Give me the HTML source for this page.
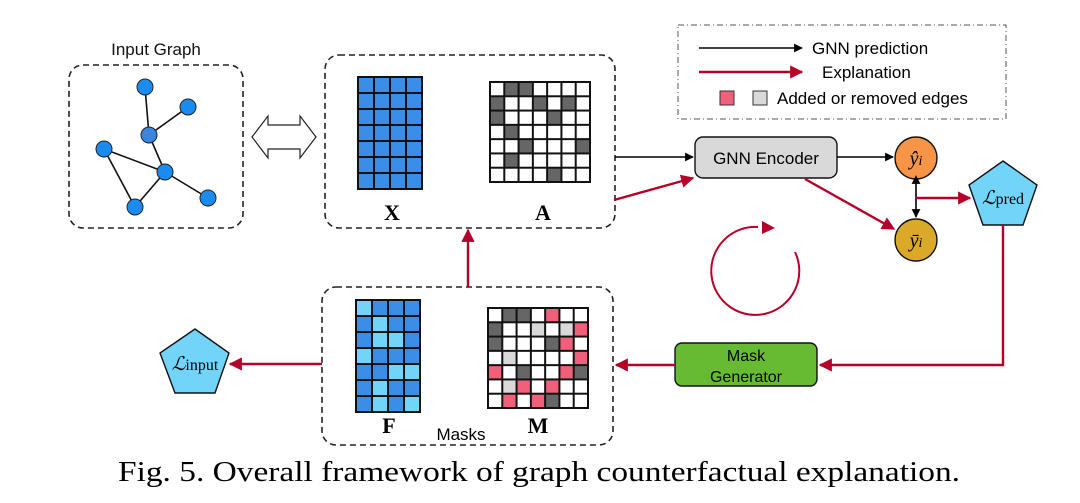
<!DOCTYPE html>
<html><head><meta charset="utf-8"><style>html,body{margin:0;padding:0;background:#fff}svg{display:block}</style></head><body>
<svg width="1080" height="503" viewBox="0 0 1080 503" xmlns="http://www.w3.org/2000/svg" font-family="Liberation Sans, sans-serif">
<defs>
<marker id="ab" viewBox="0 0 10 10" refX="9" refY="5" markerWidth="5.5" markerHeight="5.5" orient="auto"><path d="M0,0L10,5L0,10z" fill="#000"/></marker>
<marker id="ar" viewBox="0 0 10 10" refX="9" refY="5" markerWidth="5.5" markerHeight="5.5" orient="auto"><path d="M0,0L10,5L0,10z" fill="#b5002a"/></marker>
<marker id="abs" viewBox="0 0 10 10" refX="1" refY="5" markerWidth="5.5" markerHeight="5.5" orient="auto-start-reverse"><path d="M0,0L10,5L0,10z" fill="#000"/></marker>
<pattern id="gF" x="356" y="300" width="16" height="16" patternUnits="userSpaceOnUse"><rect x="0" y="0" width="16" height="16" fill="none" stroke="#111" stroke-width="2"/></pattern>
<pattern id="gX" x="358" y="77" width="16" height="16" patternUnits="userSpaceOnUse"><rect x="0" y="0" width="16" height="16" fill="none" stroke="#111" stroke-width="2"/></pattern>
<pattern id="gA" x="490" y="82" width="14.285" height="14.285" patternUnits="userSpaceOnUse"><rect x="0" y="0" width="14.285" height="14.285" fill="none" stroke="#111" stroke-width="2"/></pattern>
<pattern id="gM" x="488" y="308" width="14.285" height="14.285" patternUnits="userSpaceOnUse"><rect x="0" y="0" width="14.285" height="14.285" fill="none" stroke="#111" stroke-width="2"/></pattern>
</defs>

<text x="156" y="55" font-size="17" text-anchor="middle" fill="#111">Input Graph</text>
<rect x="69" y="65" width="174" height="163" rx="14" fill="none" stroke="#222" stroke-width="1.6" stroke-dasharray="6,4"/>
<g stroke="#111" stroke-width="1.6">
<line x1="145" y1="87" x2="149" y2="135"/><line x1="188" y1="107" x2="149" y2="135"/>
<line x1="149" y1="135" x2="165" y2="172"/><line x1="104" y1="149" x2="165" y2="172"/>
<line x1="104" y1="149" x2="135" y2="207"/><line x1="165" y1="172" x2="135" y2="207"/>
<line x1="165" y1="172" x2="208" y2="198"/>
</g>
<g fill="#1a8cf0" stroke="#222" stroke-width="1">
<circle cx="145" cy="87" r="8"/><circle cx="188" cy="107" r="8"/><circle cx="149" cy="135" r="8" fill="#3a86de"/>
<circle cx="104" cy="149" r="8"/><circle cx="165" cy="172" r="8"/><circle cx="135" cy="207" r="8"/><circle cx="208" cy="198" r="8"/>
</g>
<path d="M252,137 L268,116 L268,125 L300,125 L300,116 L316,137 L300,158 L300,149 L268,149 L268,158 Z" fill="#fff" stroke="#222" stroke-width="1.2"/>

<rect x="325" y="55" width="290" height="173" rx="14" fill="none" stroke="#222" stroke-width="1.6" stroke-dasharray="6,4"/>
<rect x="358" y="77" width="64" height="112" fill="#3a8ee6"/>
<rect x="358" y="77" width="64" height="112" fill="url(#gX)" stroke="#111" stroke-width="2"/>
<g fill="#666">
<rect x="504.3" y="82" width="14.3" height="14.3"/><rect x="518.6" y="82" width="14.3" height="14.3"/>
<rect x="490" y="96.3" width="14.3" height="14.3"/><rect x="532.9" y="96.3" width="14.3" height="14.3"/><rect x="561.4" y="96.3" width="14.3" height="14.3"/>
<rect x="490" y="110.6" width="14.3" height="14.3"/><rect x="547.1" y="110.6" width="14.3" height="14.3"/>
<rect x="504.3" y="124.9" width="14.3" height="14.3"/>
<rect x="518.6" y="139.1" width="14.3" height="14.3"/><rect x="575.7" y="139.1" width="14.3" height="14.3"/>
<rect x="504.3" y="153.4" width="14.3" height="14.3"/>
<rect x="547.1" y="167.7" width="14.3" height="14.3"/>
</g>
<rect x="490" y="82" width="100" height="100" fill="url(#gA)" stroke="#111" stroke-width="2"/>
<text x="392" y="220" font-family="Liberation Serif, serif" font-weight="bold" font-size="22" text-anchor="middle">X</text>
<text x="543" y="220" font-family="Liberation Serif, serif" font-weight="bold" font-size="22" text-anchor="middle">A</text>

<rect x="322" y="287" width="291" height="158" rx="14" fill="none" stroke="#222" stroke-width="1.6" stroke-dasharray="6,4"/>
<rect x="356" y="300" width="64" height="112" fill="#3a8ee6"/>
<g fill="#72d4f8">
<rect x="356" y="300" width="16" height="16"/><rect x="372" y="316" width="16" height="16"/>
<rect x="372" y="332" width="16" height="16"/><rect x="388" y="332" width="16" height="16"/>
<rect x="356" y="348" width="16" height="16"/><rect x="388" y="364" width="16" height="16"/><rect x="404" y="364" width="16" height="16"/>
<rect x="372" y="380" width="16" height="16"/><rect x="372" y="396" width="16" height="16"/><rect x="404" y="396" width="16" height="16"/>
</g>
<rect x="356" y="300" width="64" height="112" fill="url(#gF)" stroke="#111" stroke-width="2"/>
<g fill="#666">
<rect x="502.3" y="308" width="14.3" height="14.3"/><rect x="516.6" y="308" width="14.3" height="14.3"/>
<rect x="488" y="322.3" width="14.3" height="14.3"/><rect x="488" y="336.6" width="14.3" height="14.3"/><rect x="545.1" y="336.6" width="14.3" height="14.3"/>
<rect x="516.6" y="365.1" width="14.3" height="14.3"/><rect x="573.7" y="365.1" width="14.3" height="14.3"/><rect x="545.1" y="393.7" width="14.3" height="14.3"/>
</g>
<g fill="#f0607a">
<rect x="545.1" y="308" width="14.3" height="14.3"/><rect x="573.7" y="322.3" width="14.3" height="14.3"/><rect x="559.4" y="336.6" width="14.3" height="14.3"/>
<rect x="573.7" y="350.9" width="14.3" height="14.3"/><rect x="488" y="365.1" width="14.3" height="14.3"/><rect x="559.4" y="365.1" width="14.3" height="14.3"/>
<rect x="516.6" y="379.4" width="14.3" height="14.3"/><rect x="545.1" y="379.4" width="14.3" height="14.3"/>
<rect x="502.3" y="393.7" width="14.3" height="14.3"/><rect x="530.9" y="393.7" width="14.3" height="14.3"/>
</g>
<g fill="#d9d9d9">
<rect x="530.9" y="322.3" width="14.3" height="14.3"/><rect x="559.4" y="322.3" width="14.3" height="14.3"/>
<rect x="502.3" y="350.9" width="14.3" height="14.3"/><rect x="502.3" y="379.4" width="14.3" height="14.3"/>
</g>
<rect x="488" y="308" width="100" height="100" fill="url(#gM)" stroke="#111" stroke-width="2"/>
<text x="389" y="433" font-family="Liberation Serif, serif" font-weight="bold" font-size="22" text-anchor="middle">F</text>
<text x="461" y="440" font-size="17" text-anchor="middle">Masks</text>
<text x="538" y="433" font-family="Liberation Serif, serif" font-weight="bold" font-size="22" text-anchor="middle">M</text>

<line x1="468" y1="287" x2="468" y2="230" stroke="#b5002a" stroke-width="2.4" marker-end="url(#ar)"/>

<path d="M195,329 L229,353 L215,393 L175,393 L160,353 Z" fill="#72d4f8" stroke="#111" stroke-width="1.4"/>
<text x="195" y="370" font-family="Liberation Serif, serif" font-size="19" text-anchor="middle" font-style="italic">ℒ<tspan font-style="normal" font-size="16">input</tspan></text>
<line x1="322" y1="364" x2="230" y2="364" stroke="#b5002a" stroke-width="2.4" marker-end="url(#ar)"/>

<rect x="695" y="137" width="142" height="41" rx="8" fill="#d9d9d9" stroke="#111" stroke-width="1.4"/>
<text x="766" y="164" font-size="17" text-anchor="middle">GNN Encoder</text>
<line x1="615" y1="157" x2="693" y2="157" stroke="#000" stroke-width="1.6" marker-end="url(#ab)"/>
<line x1="614" y1="200" x2="693" y2="178" stroke="#b5002a" stroke-width="2.4" marker-end="url(#ar)"/>
<line x1="837" y1="157" x2="893" y2="157" stroke="#000" stroke-width="1.6" marker-end="url(#ab)"/>
<line x1="805" y1="179" x2="894" y2="229" stroke="#b5002a" stroke-width="2.4" marker-end="url(#ar)"/>
<circle cx="916" cy="158" r="21" fill="#f79445" stroke="#111" stroke-width="1.4"/>
<text x="916" y="165" font-family="Liberation Serif, serif" font-style="italic" font-size="20" text-anchor="middle">ŷ<tspan font-size="14">i</tspan></text>
<circle cx="916" cy="240" r="21" fill="#dba928" stroke="#111" stroke-width="1.4"/>
<text x="916" y="247" font-family="Liberation Serif, serif" font-style="italic" font-size="20" text-anchor="middle">ȳ<tspan font-size="14">i</tspan></text>
<line x1="916" y1="183" x2="916" y2="217" stroke="#000" stroke-width="1.6" marker-start="url(#abs)" marker-end="url(#ab)"/>
<line x1="916" y1="198" x2="970" y2="198" stroke="#b5002a" stroke-width="2.4" marker-end="url(#ar)"/>
<path d="M1003,161 L1037,185 L1023,225 L983,225 L969,185 Z" fill="#72d4f8" stroke="#111" stroke-width="1.4"/>
<text x="1003" y="204" font-family="Liberation Serif, serif" font-size="19" text-anchor="middle" font-style="italic">ℒ<tspan font-style="normal" font-size="16">pred</tspan></text>
<polyline points="1003,225 1003,365 820,365" fill="none" stroke="#b5002a" stroke-width="2.4" marker-end="url(#ar)"/>

<rect x="675" y="343" width="142" height="43" rx="7" fill="#66bb33" stroke="#111" stroke-width="1.4"/>
<text x="746" y="361" font-size="16" text-anchor="middle">Mask</text>
<text x="746" y="382" font-size="16" text-anchor="middle">Generator</text>
<line x1="675" y1="365" x2="616" y2="365" stroke="#b5002a" stroke-width="2.4" marker-end="url(#ar)"/>

<path d="M795,252 A44,44 0 1 1 758,227" fill="none" stroke="#b5002a" stroke-width="2"/>
<path d="M762,221 L775,228 L762,234 Z" fill="#b5002a"/>

<rect x="678" y="25" width="328" height="94" fill="none" stroke="#555" stroke-width="1" stroke-dasharray="6,3,1,3"/>
<line x1="699" y1="48" x2="802" y2="48" stroke="#000" stroke-width="1.6" marker-end="url(#ab)"/>
<text x="812" y="54" font-size="17">GNN prediction</text>
<line x1="699" y1="72" x2="802" y2="72" stroke="#b5002a" stroke-width="2.4" marker-end="url(#ar)"/>
<text x="822" y="78" font-size="17">Explanation</text>
<rect x="720" y="91" width="14" height="14" fill="#f0607a" stroke="#333" stroke-width="1"/>
<rect x="753" y="91" width="14" height="14" fill="#d9d9d9" stroke="#333" stroke-width="1"/>
<text x="777" y="104" font-size="17">Added or removed edges</text>

<text x="118" y="481" font-family="Liberation Serif, serif" font-size="28" textLength="842" lengthAdjust="spacingAndGlyphs">Fig. 5.  Overall framework of graph counterfactual explanation.</text>
</svg>
</body></html>
